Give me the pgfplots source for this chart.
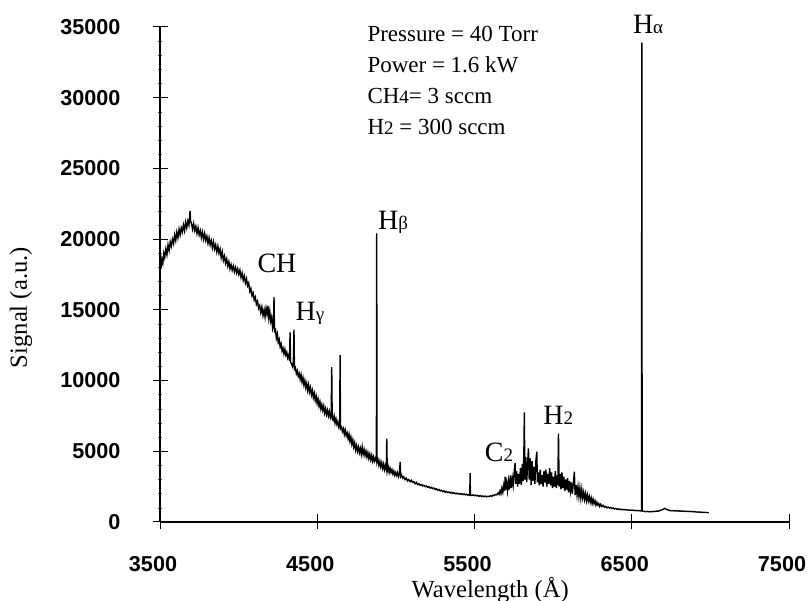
\documentclass[border=0pt]{standalone}
\usepackage{fontspec}
\setmainfont{Liberation Serif}
\newfontfamily\arial{Liberation Sans}
\usepackage{pgfplots}
\pgfplotsset{compat=1.18}
% small index digits / greek letters as in the scan
\newcommand{\sm}[1]{{\fontsize{9.5}{10}\selectfont #1}}

\begin{document}
\begin{tikzpicture}
\begin{axis}[
    scale only axis,
    width=314.5pt,
    height=247.5pt,
    xmin=3500, xmax=7500,
    ymin=0, ymax=35000,
    axis lines=left,
    axis line style={-, line width=0.6pt},
    xtick={3500,4500,5500,6500,7500},
    ytick={0,5000,...,35000},
    minor y tick num=4,
    tick align=center,
    major tick length=7.5pt,
    minor tick length=2pt,
    tick style={black, line width=0.5pt},
    minor tick style={black!70, line width=0.3pt},
    scaled ticks=false,
    /pgf/number format/set thousands separator={},
    /pgf/number format/assume math mode=true,
    ticklabel style={font=\arial\bfseries\fontsize{10.8}{12}\selectfont},
    xticklabel style={yshift=-10pt, xshift=-3.5pt},
    yticklabel style={xshift=-12.5pt},
    xlabel={Wavelength (Å)},
    ylabel={Signal (a.u.)},
    label style={font=\fontsize{12.3}{14}\selectfont},
    xlabel style={at={(axis description cs:0.525,-0.137)}, anchor=center},
    ylabel style={at={(axis description cs:-0.221,0.433)}, anchor=center},
    clip=false,
]
% emission spectrum
\addplot[black, line width=0.7pt] coordinates {
(3506,17900)(3512,18600)(3518,18300)(3524,19000)(3530,18700)(3537,19300)(3544,18900)(3551,19600)(3558,19200)(3565,19800)
(3572,19500)(3579,20000)(3586,19700)(3593,20300)(3600,19900)(3607,20500)(3614,20100)(3621,20700)(3628,20300)(3635,20800)
(3642,20500)(3649,21000)(3656,20600)(3663,21200)(3670,20800)(3677,21300)(3684,21000)(3689,21600)(3691,22000)(3694,21300)
(3700,21100)(3707,20700)(3714,21100)(3721,20600)(3728,20900)(3735,20400)(3742,20800)(3749,20300)(3756,20600)(3763,20100)
(3770,20500)(3777,20000)(3784,20400)(3791,19900)(3798,20200)(3805,19700)(3812,20100)(3819,19600)(3826,19900)(3833,19400)
(3840,19800)(3847,19300)(3854,19600)(3861,19100)(3868,19500)(3875,19000)(3882,19300)(3889,18700)(3896,19100)(3903,18500)
(3910,18800)(3917,18300)(3924,18600)(3931,18100)(3938,18400)(3945,17900)(3952,18200)(3959,17800)(3966,18100)(3973,17700)
(3980,18000)(3987,17600)(3994,17900)(4001,17500)(4008,17800)(4015,17300)(4022,17600)(4029,17100)(4036,17400)(4043,16900)
(4050,17200)(4057,16700)(4064,16900)(4071,16300)(4078,16500)(4085,16000)(4092,16200)(4099,15700)(4106,15900)(4113,15400)
(4120,15600)(4127,15100)(4134,15300)(4141,14800)(4148,15200)(4155,14600)(4162,15000)(4168,14500)(4174,15100)(4180,14700)
(4186,15300)(4192,14400)(4198,14900)(4204,14200)(4210,14500)(4216,13700)(4222,14000)(4225,15900)(4228,13500)(4234,13600)
(4240,13000)(4246,13300)(4252,12700)(4258,12900)(4264,12400)(4270,12600)(4276,12100)(4282,12300)(4288,11900)(4294,12200)
(4300,11800)(4306,12000)(4312,11600)(4318,11800)(4324,11400)(4327,13400)(4330,11300)(4336,11200)(4342,11000)(4348,11300)
(4352,13600)(4355,10800)(4361,10900)(4367,10500)(4373,10700)(4379,10300)(4385,10500)(4391,10100)(4397,10400)(4403,9900)
(4409,10200)(4415,9700)(4421,10000)(4427,9500)(4433,9800)(4439,9300)(4445,9700)(4451,9200)(4457,9500)(4463,9000)
(4469,9300)(4475,8800)(4481,9100)(4487,8600)(4493,8900)(4499,8400)(4505,8700)(4511,8200)(4517,8500)(4523,8000)
(4529,8300)(4535,7900)(4541,8200)(4547,7700)(4553,8000)(4559,7600)(4565,7900)(4571,7500)(4577,7800)(4583,7400)
(4589,7700)(4592,10950)(4595,7300)(4601,7200)(4607,7500)(4613,7000)(4619,7300)(4625,6900)(4631,7100)(4637,6700)
(4643,6900)(4645,11800)(4648,6600)(4654,6700)(4660,6400)(4666,6600)(4672,6200)(4678,6500)(4684,6100)(4690,6300)
(4696,5900)(4702,6200)(4708,5700)(4714,6000)(4720,5500)(4726,5800)(4732,5300)(4738,5600)(4744,5100)(4750,5400)
(4756,5000)(4762,5300)(4768,4900)(4774,5200)(4780,4800)(4786,5300)(4792,4800)(4798,5100)(4804,4700)(4810,5000)
(4816,4600)(4822,4900)(4828,4500)(4834,4800)(4840,4400)(4846,4700)(4852,4300)(4858,4600)(4864,4300)(4870,4500)
(4876,4300)(4878,20400)(4880,4200)(4886,4400)(4892,4000)(4898,4300)(4904,3900)(4910,4200)(4916,3800)(4922,4100)
(4928,3700)(4934,4000)(4940,3700)(4942,5900)(4945,3600)(4951,3900)(4957,3500)(4963,3800)(4969,3500)(4975,3700)
(4981,3400)(4987,3600)(4993,3300)(4999,3500)(5005,3300)(5011,3500)(5017,3200)(5023,3400)(5027,4250)(5031,3200)
(5037,3300)(5043,3100)(5050,3200)(5058,3000)(5066,3100)(5074,2900)(5082,3000)(5090,2850)(5098,2950)(5106,2800)
(5114,2850)(5122,2700)(5130,2800)(5138,2650)(5146,2700)(5154,2600)(5162,2650)(5170,2550)(5178,2600)(5186,2500)
(5194,2550)(5202,2450)(5210,2500)(5218,2400)(5226,2450)(5234,2350)(5242,2400)(5250,2300)(5258,2350)(5266,2250)
(5274,2300)(5282,2200)(5290,2250)(5298,2150)(5306,2200)(5314,2100)(5322,2150)(5330,2080)(5338,2120)(5346,2050)
(5354,2100)(5362,2020)(5370,2060)(5378,2000)(5386,2040)(5394,1980)(5402,2020)(5410,1960)(5418,2000)(5426,1940)
(5434,1980)(5442,1920)(5450,1960)(5458,1900)(5466,1940)(5470,1900)(5472,3450)(5474,1900)(5482,1880)(5490,1920)
(5498,1860)(5506,1900)(5514,1840)(5522,1880)(5530,1820)(5538,1860)(5546,1800)(5554,1840)(5562,1790)(5570,1830)
(5578,1780)(5586,1820)(5594,1800)(5602,1850)(5610,1820)(5618,1900)(5626,1870)(5634,1950)(5642,1920)(5650,2050)
(5656,1950)(5662,2200)(5668,2000)(5674,2400)(5680,2100)(5686,2600)(5692,2200)(5695,3200)(5698,2300)(5704,2800)
(5710,2200)(5716,2900)(5722,2300)(5728,3300)(5734,2400)(5740,3100)(5746,2600)(5752,3500)(5758,4170)(5762,2700)
(5768,3600)(5774,2500)(5780,3400)(5786,2700)(5792,3800)(5798,2600)(5804,4100)(5810,2900)(5814,5000)(5817,7750)
(5820,3000)(5826,4600)(5832,2800)(5838,4200)(5843,5200)(5848,3000)(5854,4500)(5860,2600)(5866,4300)(5872,2900)
(5878,3900)(5884,2700)(5890,4300)(5896,4970)(5900,2800)(5906,3500)(5912,2600)(5918,3700)(5924,2700)(5930,3300)
(5936,2500)(5942,3600)(5948,2800)(5954,3700)(5960,2500)(5966,3400)(5972,2700)(5978,3800)(5984,2600)(5990,3500)
(5996,2400)(6002,3200)(6008,2500)(6014,3600)(6020,2400)(6026,3300)(6030,2600)(6034,6250)(6038,2500)(6044,3400)
(6050,2300)(6056,3500)(6062,2400)(6068,3200)(6074,2200)(6080,3000)(6086,2300)(6092,3100)(6098,2100)(6104,2900)
(6110,2200)(6116,2800)(6122,2000)(6128,2700)(6135,3550)(6140,1900)(6146,2600)(6152,1900)(6158,2500)(6164,1800)
(6170,2400)(6176,1700)(6182,2300)(6188,1700)(6194,2100)(6200,1600)(6206,2000)(6212,1500)(6218,1900)(6224,1500)
(6230,1800)(6236,1400)(6242,1700)(6248,1300)(6254,1600)(6260,1300)(6266,1500)(6272,1200)(6278,1400)(6284,1200)
(6290,1300)(6296,1100)(6302,1250)(6310,1100)(6318,1180)(6326,1050)(6334,1100)(6342,1000)(6350,1060)(6358,980)
(6366,1020)(6374,950)(6382,990)(6390,920)(6398,960)(6406,900)(6414,930)(6422,880)(6430,910)(6440,860)
(6450,890)(6460,850)(6470,870)(6480,830)(6490,850)(6500,820)(6510,840)(6520,800)(6530,820)(6540,790)
(6550,800)(6558,780)(6562,800)(6564,33900)(6566,790)(6570,760)(6580,750)(6590,730)(6600,750)(6610,720)
(6620,740)(6630,720)(6640,760)(6650,740)(6660,780)(6670,760)(6680,820)(6690,850)(6700,900)(6710,960)
(6720,900)(6730,850)(6740,820)(6750,790)(6760,800)(6770,780)(6780,800)(6790,770)(6800,790)(6810,760)
(6820,780)(6830,750)(6840,770)(6850,740)(6860,760)(6870,730)(6880,750)(6890,720)(6900,730)(6910,700)
(6920,710)(6930,690)(6940,700)(6950,680)(6960,690)(6970,670)(6980,670)(6990,650)
};

% line labels
\begin{scope}[font=\fontsize{14}{16}\selectfont]
\node at (axis cs:4244,18290) {CH};
\node at (axis cs:4454,14760) {H\sm{γ}};
\node at (axis cs:4982,21190) {H\sm{β}};
\node at (axis cs:5656,4940) {C\sm{2}};
\node at (axis cs:6032,7560) {H\sm{2}};
\node at (axis cs:6604,35170) {H\sm{α}};
\end{scope}

% conditions
\begin{scope}[font=\fontsize{11.5}{13}\selectfont, inner sep=0pt]
\node[anchor=base west] at (axis cs:4817,33970) {Pressure = 40 Torr};
\node[anchor=base west] at (axis cs:4817,31780) {Power = 1.6 kW};
\node[anchor=base west] at (axis cs:4817,29590) {CH\sm{4}= 3 sccm};
\node[anchor=base west] at (axis cs:4817,27400) {H\sm{2} = 300 sccm};
\end{scope}

% page frame with the reference's proportions
\coordinate (pagebl) at (rel axis cs:-0.2544,-0.1596);
\coordinate (pagetr) at (rel axis cs:1.0286,1.0545);
\end{axis}
\pgfresetboundingbox
\path[use as bounding box] (pagebl) rectangle (pagetr);
\end{tikzpicture}
\end{document}
